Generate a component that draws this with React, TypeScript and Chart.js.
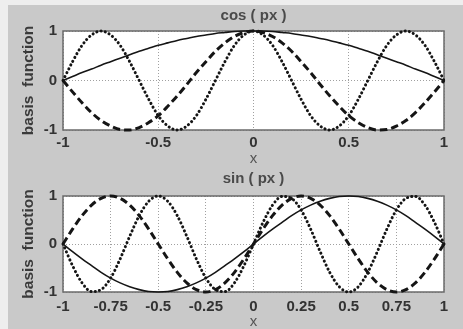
import React, { useEffect, useRef } from "react";
import { Chart, registerables } from "chart.js";

Chart.register(...registerables);

// x positions of the samples
const xValues = [
  -1, -0.95, -0.9, -0.85, -0.8, -0.75, -0.7, -0.65, -0.6, -0.55, -0.5, -0.45, -0.4, -0.35, -0.3, -0.25, -0.2, -0.15, -0.1, -0.05,
  0, 0.05, 0.1, 0.15, 0.2, 0.25, 0.3, 0.35, 0.4, 0.45, 0.5, 0.55, 0.6, 0.65, 0.7, 0.75, 0.8, 0.85, 0.9, 0.95, 1,
];

// cos ( px ) panel
const cosSolid = [
  0, 0.08, 0.16, 0.23, 0.31, 0.38, 0.45, 0.52, 0.59, 0.65, 0.71, 0.76, 0.81, 0.85, 0.89, 0.92, 0.95, 0.97, 0.99, 1.0,
  1, 1.0, 0.99, 0.97, 0.95, 0.92, 0.89, 0.85, 0.81, 0.76, 0.71, 0.65, 0.59, 0.52, 0.45, 0.38, 0.31, 0.23, 0.16, 0.08, 0,
];
const cosDashed = [
  0, -0.23, -0.45, -0.65, -0.81, -0.92, -0.99, -1.0, -0.95, -0.85, -0.71, -0.52, -0.31, -0.08, 0.16, 0.38, 0.59, 0.76, 0.89, 0.97,
  1, 0.97, 0.89, 0.76, 0.59, 0.38, 0.16, -0.08, -0.31, -0.52, -0.71, -0.85, -0.95, -1.0, -0.99, -0.92, -0.81, -0.65, -0.45, -0.23, 0,
];
const cosDotted = [
  0, 0.38, 0.71, 0.92, 1, 0.92, 0.71, 0.38, 0, -0.38, -0.71, -0.92, -1, -0.92, -0.71, -0.38, 0, 0.38, 0.71, 0.92,
  1, 0.92, 0.71, 0.38, 0, -0.38, -0.71, -0.92, -1, -0.92, -0.71, -0.38, 0, 0.38, 0.71, 0.92, 1, 0.92, 0.71, 0.38, 0,
];

// sin ( px ) panel
const sinSolid = [
  0, -0.16, -0.31, -0.45, -0.59, -0.71, -0.81, -0.89, -0.95, -0.99, -1, -0.99, -0.95, -0.89, -0.81, -0.71, -0.59, -0.45, -0.31, -0.16,
  0, 0.16, 0.31, 0.45, 0.59, 0.71, 0.81, 0.89, 0.95, 0.99, 1, 0.99, 0.95, 0.89, 0.81, 0.71, 0.59, 0.45, 0.31, 0.16, 0,
];
const sinDashed = [
  0, 0.31, 0.59, 0.81, 0.95, 1, 0.95, 0.81, 0.59, 0.31, 0, -0.31, -0.59, -0.81, -0.95, -1, -0.95, -0.81, -0.59, -0.31,
  0, 0.31, 0.59, 0.81, 0.95, 1, 0.95, 0.81, 0.59, 0.31, 0, -0.31, -0.59, -0.81, -0.95, -1, -0.95, -0.81, -0.59, -0.31, 0,
];
const sinDotted = [
  0, -0.45, -0.81, -0.99, -0.95, -0.71, -0.31, 0.16, 0.59, 0.89, 1, 0.89, 0.59, 0.16, -0.31, -0.71, -0.95, -0.99, -0.81, -0.45,
  0, 0.45, 0.81, 0.99, 0.95, 0.71, 0.31, -0.16, -0.59, -0.89, -1, -0.89, -0.59, -0.16, 0.31, 0.71, 0.95, 0.99, 0.81, 0.45, 0,
];

const xTicksTop = [-1, -0.5, 0, 0.5, 1];
const xTicksBottom = [-1, -0.75, -0.5, -0.25, 0, 0.25, 0.5, 0.75, 1];
const yTicks = [-1, 0, 1];

const topTitle = "cos ( px )";
const bottomTitle = "sin ( px )";
const yTitle = "basis  function";
const xTitle = "x";

const FONT = "'Liberation Sans', Arial, sans-serif";
const CANVAS_W = 463;
const CANVAS_H = 170;

const lineStyles = [
  { borderWidth: 1.6, borderDash: [] as number[], borderCapStyle: "butt" },
  { borderWidth: 3, borderDash: [7.5, 4], borderCapStyle: "butt" },
  { borderWidth: 3, borderDash: [0.1, 4.2], borderCapStyle: "round" },
];

const framePlugin = {
  id: "frame",
  beforeDraw(chart: any) {
    const { ctx, chartArea } = chart;
    const { left, top, right, bottom } = chartArea;
    ctx.save();
    ctx.fillStyle = "#ffffff";
    ctx.fillRect(left, top, right - left, bottom - top);
    ctx.restore();
  },
  beforeDatasetsDraw(chart: any) {
    const { ctx, chartArea } = chart;
    const { left, top, right, bottom } = chartArea;
    ctx.save();
    ctx.strokeStyle = "#6a6a6a";
    ctx.lineWidth = 1.5;
    ctx.setLineDash([]);
    ctx.strokeRect(left, top, right - left, bottom - top);
    ctx.restore();
  },
  afterDraw(chart: any, _args: any, opts: any) {
    const { ctx, chartArea } = chart;
    ctx.save();
    ctx.fillStyle = "#4a4a4a";
    ctx.font = `bold 15px ${FONT}`;
    ctx.textAlign = "center";
    ctx.textBaseline = "middle";
    ctx.fillText(opts.text, (chartArea.left + chartArea.right) / 2, opts.y);
    ctx.restore();
  },
};

type PanelProps = {
  top: number;
  title: string;
  series: number[][];
  xTicks: number[];
  titlePadTop: number;
  titlePadBottom: number;
  plotBottom: number;
  tickPad: number;
  xTitlePad: number;
};

function Panel(props: PanelProps) {
  const ref = useRef<HTMLCanvasElement | null>(null);
  useEffect(() => {
    if (!ref.current) return;
    const datasets = props.series.map((vals, i) => ({
      data: xValues.map((x, j) => ({ x, y: vals[j] })),
      borderColor: "#151515",
      backgroundColor: "#151515",
      borderWidth: lineStyles[i].borderWidth,
      borderDash: lineStyles[i].borderDash,
      borderCapStyle: lineStyles[i].borderCapStyle,
      borderJoinStyle: "round",
      pointRadius: 0,
      cubicInterpolationMode: "monotone",
      fill: false,
      clip: 4,
    }));
    const gridCommon = {
      color: "#a0a0a0",
      lineWidth: 1,
      drawTicks: false,
      borderDash: [1, 2],
    };
    const chart = new Chart(ref.current, {
      type: "line",
      data: { datasets: datasets as any },
      plugins: [framePlugin],
      options: {
        animation: false,
        responsive: false,
        devicePixelRatio: 1,
        layout: { padding: { left: 0, right: 19, top: 0, bottom: 0 } },
        plugins: {
          legend: { display: false },
          tooltip: { enabled: false },
          frame: { text: props.title, y: props.titlePadTop + 9 },
          title: {
            display: true,
            text: props.title,
            color: "rgba(0,0,0,0)",
            font: { family: FONT, size: 15, weight: "bold" },
            padding: { top: props.titlePadTop, bottom: props.titlePadBottom },
          },
        },
        scales: {
          x: {
            type: "linear",
            min: -1,
            max: 1,
            afterBuildTicks: (scale: any) => {
              scale.ticks = props.xTicks.map((v) => ({ value: v }));
            },
            afterFit: (scale: any) => {
              scale.height = CANVAS_H - props.plotBottom;
            },
            ticks: {
              autoSkip: false,
              maxRotation: 0,
              padding: props.tickPad,
              color: "#333333",
              font: { family: FONT, size: 15, weight: "bold" },
              callback: (v: any) => String(Number(v)),
            },
            grid: gridCommon as any,
            border: { display: false, dash: [1, 2] },
            title: {
              display: true,
              text: xTitle,
              color: "#555555",
              font: { family: FONT, size: 15 },
              padding: { top: 0, bottom: props.xTitlePad },
            },
          },
          y: {
            type: "linear",
            min: -1,
            max: 1,
            afterBuildTicks: (scale: any) => {
              scale.ticks = yTicks.map((v) => ({ value: v }));
            },
            afterFit: (scale: any) => {
              scale.width = 63;
            },
            ticks: {
              padding: 6,
              color: "#333333",
              font: { family: FONT, size: 15, weight: "bold" },
              callback: (v: any) => String(Number(v)),
            },
            grid: gridCommon as any,
            border: { display: false, dash: [1, 2] },
            title: {
              display: true,
              text: yTitle,
              color: "#3a3a3a",
              font: { family: FONT, size: 15.5, weight: "bold" },
              padding: { top: 19, bottom: 0 },
            },
          },
        },
      } as any,
    });
    return () => chart.destroy();
  }, []);
  return (
    <canvas
      ref={ref}
      width={CANVAS_W}
      height={CANVAS_H}
      style={{ position: "absolute", left: 0, top: props.top, width: CANVAS_W, height: CANVAS_H }}
    />
  );
}

export default function App() {
  return (
    <div
      style={{
        position: "fixed",
        left: 0,
        top: 0,
        width: CANVAS_W,
        height: 329,
        overflow: "hidden",
        background: "#eeeeee",
      }}
    >
      <div style={{ position: "absolute", left: 8, top: 5, right: 0, bottom: 0, background: "#c9c9c9" }} />
      <Panel
        top={0}
        title={topTitle}
        series={[cosSolid, cosDashed, cosDotted]}
        xTicks={xTicksTop}
        titlePadTop={7}
        titlePadBottom={6}
        plotBottom={130}
        tickPad={3.5}
        xTitlePad={2}
      />
      <Panel
        top={164}
        title={bottomTitle}
        series={[sinSolid, sinDashed, sinDotted]}
        xTicks={xTicksBottom}
        titlePadTop={6}
        titlePadBottom={8}
        plotBottom={128}
        tickPad={5.5}
        xTitlePad={3}
      />
    </div>
  );
}
